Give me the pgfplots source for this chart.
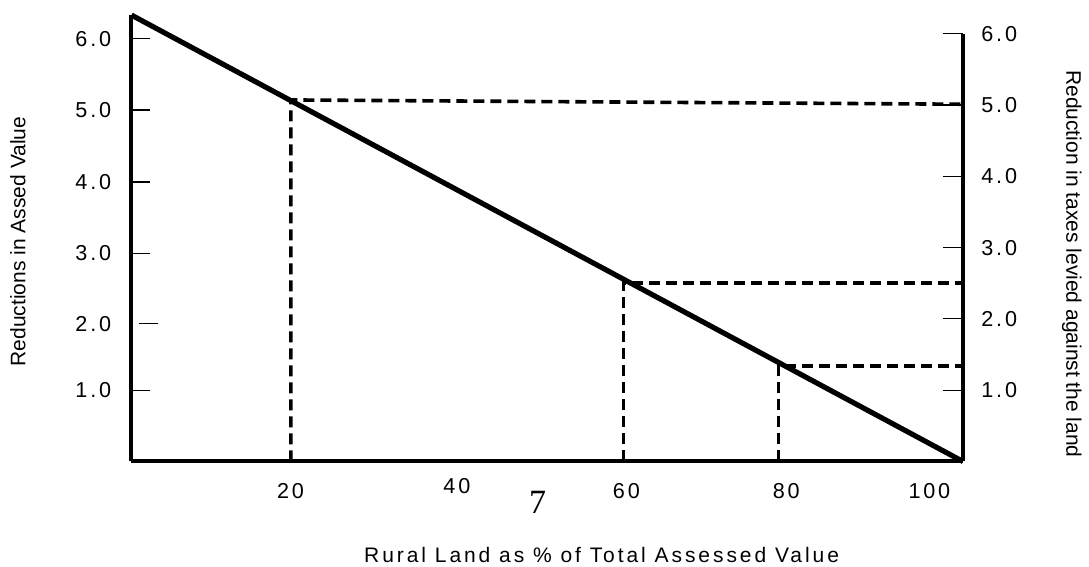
\documentclass[border=0pt]{standalone}
\usepackage{fontspec}
\setmainfont{Liberation Sans}
\newfontfamily\tickfont[LetterSpace=13]{Liberation Sans}
\newfontfamily\titlefont[LetterSpace=14]{Liberation Sans}
\newfontfamily\seriffont{Liberation Serif}
\usepackage{pgfplots}
\pgfplotsset{compat=1.18}
\begin{document}
\begin{tikzpicture}
\path[use as bounding box] (-65.75pt,-52.75pt) rectangle (478.75pt,230.75pt);
\begin{axis}[
  at={(0,0)}, anchor=south west,
  scale only axis, width=415.75pt, height=223.2pt,
  xmin=0, xmax=104, ymin=0, ymax=6.26,
  clip=false,
  axis x line=bottom, axis y line=left,
  axis line style={line width=2pt, -},
  xtick={19.9,40.7,61.9,81.9,99.8},
  xticklabels={20,{\raisebox{2.6pt}{40}},60,80,100},
  xticklabel style={font=\fontsize{10.8}{12}\tickfont, anchor=base, inner sep=0pt, yshift=-18.5pt},
  every major x tick/.append style={draw=none},
  ytick={1.0,2.92,3.92,4.93,5.93},
  yticklabels={1.0,3.0,4.0,5.0,6.0},
  extra y ticks={1.93}, extra y tick labels={2.0},
  extra y tick style={tick style={xshift=4pt}},
  tick align=inside, major tick length=9.5pt,
  tick style={line width=0.6pt, black},
  yticklabel style={font=\fontsize{10.8}{12}\tickfont, anchor=east, inner sep=0pt, xshift=-10pt},
]
\addplot[line width=2.6pt, black] coordinates {(0,6.26) (104,0)};
\addplot[line width=1.8pt, black, dash pattern=on 5.5pt off 3pt] coordinates {(19.94,0) (19.94,5.07) (104,5.01)};
\addplot[line width=1.8pt, black, dash pattern=on 5.5pt off 3pt] coordinates {(61.56,0) (61.56,2.50) (104,2.50)};
\addplot[line width=1.8pt, black, dash pattern=on 5.5pt off 3pt] coordinates {(80.94,0) (80.94,1.34) (104,1.34)};
\node[rotate=90, font=\fontsize{10.5}{12}\selectfont] at (axis cs:-14.2,3.085) {Reductions in Assed Value};
\node[rotate=-90, font=\fontsize{10.5}{12}\selectfont] at (axis cs:117.6,2.77) {Reduction in taxes levied against the land};
\node[font=\fontsize{17}{20}\seriffont] at (axis cs:50.8,-0.58) {7};
\node[font=\fontsize{10.5}{12}\titlefont, anchor=base, inner sep=0pt] at (axis cs:58.8,-1.41) {Rural Land as \% of Total Assessed Value};
\end{axis}
\begin{axis}[
  at={(0,0)}, anchor=south west,
  scale only axis, width=415.75pt, height=213.9pt,
  xmin=0, xmax=104, ymin=0, ymax=6,
  axis x line=none, axis y line=right,
  axis line style={line width=2pt, -},
  ytick={1,2,3,4,5,6},
  yticklabels={1.0,2.0,3.0,4.0,5.0,6.0},
  tick align=inside, major tick length=10pt,
  tick style={line width=0.6pt, black},
  yticklabel style={font=\fontsize{10.8}{12}\tickfont, anchor=west, inner sep=0pt, xshift=9pt},
]
\end{axis}
\end{tikzpicture}
\end{document}
